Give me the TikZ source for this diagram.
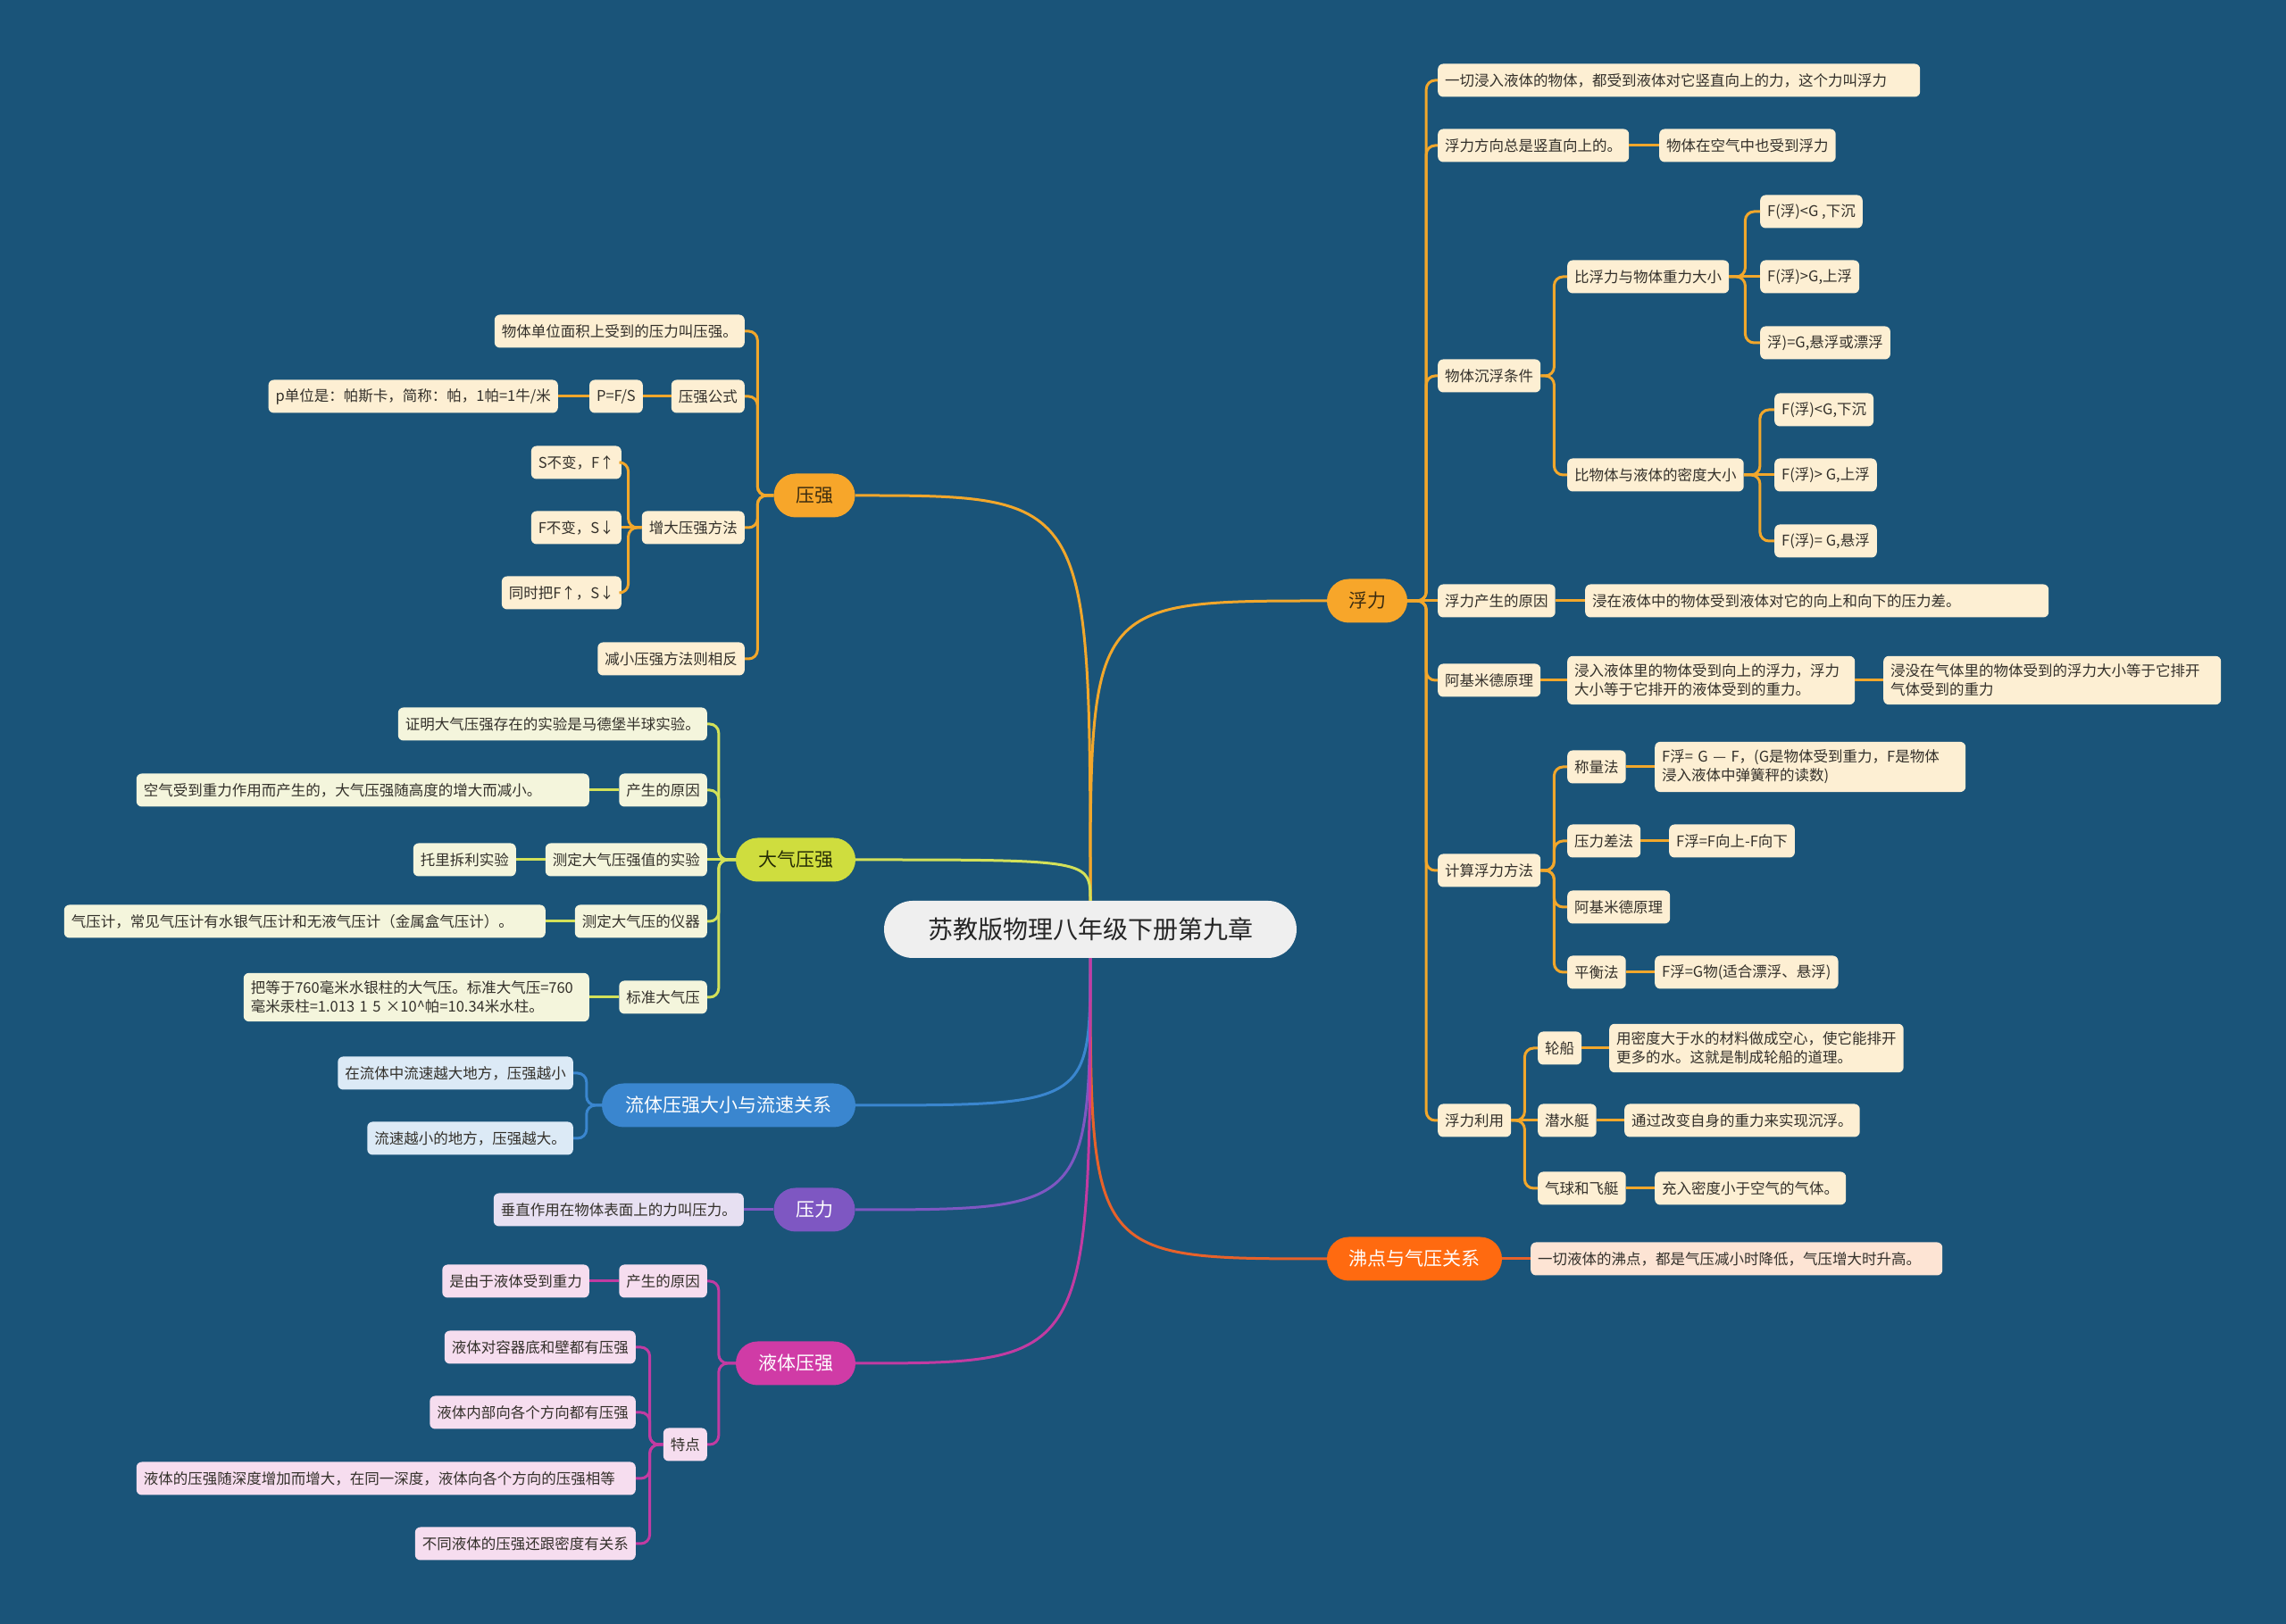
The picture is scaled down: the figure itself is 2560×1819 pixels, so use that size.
\documentclass[tikz,border=0pt]{standalone}
\usepackage{fontspec}
\setmainfont{Noto Sans CJK SC}
\usepackage{tikz}
\definecolor{bgblue}{HTML}{1A5479}
\definecolor{centerbg}{HTML}{EFEFEF}
\definecolor{leaftext}{HTML}{33302A}
\definecolor{fuline}{HTML}{F2A72B}
\definecolor{fumain}{HTML}{F7A62A}
\definecolor{fuleaf}{HTML}{FDEFD3}
\definecolor{fudark}{HTML}{3B2C10}
\definecolor{dqmain}{HTML}{CFDD3E}
\definecolor{dqline}{HTML}{D3E159}
\definecolor{dqleaf}{HTML}{F4F5DC}
\definecolor{dqdark}{HTML}{252C05}
\definecolor{ltmain}{HTML}{3A86CF}
\definecolor{ltleaf}{HTML}{DCEAF6}
\definecolor{ylmain}{HTML}{7E57C2}
\definecolor{ylleaf}{HTML}{E7E0F2}
\definecolor{ytmain}{HTML}{D03BA6}
\definecolor{ytline}{HTML}{C23BA2}
\definecolor{ytleaf}{HTML}{F6DDEF}
\definecolor{fdmain}{HTML}{FF6A10}
\definecolor{fdline}{HTML}{E8622A}
\definecolor{fdleaf}{HTML}{FDE4D4}

\begin{document}
\begin{tikzpicture}[
  x=1pt,y=1pt,
  every node/.style={font=\fontsize{16.5}{21}\selectfont},
  leaf/.style={fill=#1,rounded corners=6pt,inner xsep=8pt,inner ysep=9pt,minimum height=37pt,align=left,text=leaftext},
  topic/.style={fill=#1,rounded corners=24.5pt,minimum height=49pt,inner sep=0pt,font=\fontsize{21}{25}\selectfont},
  link/.style={draw=#1,line width=3pt,rounded corners=10pt},
  rfork/.style={to path={-- ++(#1,0) |- (\tikztotarget)}},
  lfork/.style={to path={-- ++(-#1,0) |- (\tikztotarget)}}
]
  \fill[bgblue] (0,0) rectangle (2560,1819);

  % root
  \node[fill=centerbg,rounded corners=32pt,minimum width=462pt,minimum height=64pt,inner sep=0pt,font=\fontsize{28}{32}\selectfont,text=black!85] (root) at (1221,778) {苏教版物理八年级下册第九章};

  % topics
  \node[topic=fumain,minimum width=90pt,text=fudark] (fuli) at (1531,1146) {浮力};
  \node[topic=fdmain,minimum width=196pt,text=white] (feidian) at (1584,409) {沸点与气压关系};
  \node[topic=fumain,minimum width=91pt,text=fudark] (yaqiang) at (912,1264) {压强};
  \node[topic=dqmain,minimum width=134pt,text=dqdark] (daqi) at (891,856) {大气压强};
  \node[topic=ltmain,minimum width=284pt,text=white] (liuti) at (816,581) {流体压强大小与流速关系};
  \node[topic=ylmain,minimum width=91pt,text=white] (yali) at (912,464) {压力};
  \node[topic=ytmain,minimum width=134pt,text=white] (yeti) at (891,292) {液体压强};

  % fuli
  \node[leaf=fuleaf,anchor=west,text width=524pt] (fu1) at (1610,1729) {一切浸入液体的物体，都受到液体对它竖直向上的力，这个力叫浮力};
  \node[leaf=fuleaf,anchor=west] (fu2) at (1610,1656) {浮力方向总是竖直向上的。};
  \node[leaf=fuleaf,anchor=west] (fu2a) at (1858,1656) {物体在空气中也受到浮力};
  \node[leaf=fuleaf,anchor=west] (fu3) at (1610,1398) {物体沉浮条件};
  \node[leaf=fuleaf,anchor=west] (fu3a) at (1755,1509) {比浮力与物体重力大小};
  \node[leaf=fuleaf,anchor=west] (fu3a1) at (1971,1582) {F(浮)<G ,下沉};
  \node[leaf=fuleaf,anchor=west] (fu3a2) at (1971,1509) {F(浮)>G,上浮};
  \node[leaf=fuleaf,anchor=west] (fu3a3) at (1971,1435) {浮)=G,悬浮或漂浮};
  \node[leaf=fuleaf,anchor=west] (fu3b) at (1755,1287) {比物体与液体的密度大小};
  \node[leaf=fuleaf,anchor=west] (fu3b1) at (1987,1360) {F(浮)<G,下沉};
  \node[leaf=fuleaf,anchor=west] (fu3b2) at (1987,1287) {F(浮)> G,上浮};
  \node[leaf=fuleaf,anchor=west] (fu3b3) at (1987,1213) {F(浮)= G,悬浮};
  \node[leaf=fuleaf,anchor=west] (fu4) at (1610,1146) {浮力产生的原因};
  \node[leaf=fuleaf,anchor=west,text width=503pt] (fu4a) at (1775,1146) {浸在液体中的物体受到液体对它的向上和向下的压力差。};
  \node[leaf=fuleaf,anchor=west] (fu5) at (1610,1057) {阿基米德原理};
  \node[leaf=fuleaf,anchor=west,text width=306pt] (fu5a) at (1755,1057) {浸入液体里的物体受到向上的浮力，浮力\\大小等于它排开的液体受到的重力。};
  \node[leaf=fuleaf,anchor=west,text width=362pt] (fu5b) at (2109,1057) {浸没在气体里的物体受到的浮力大小等于它排开\\气体受到的重力};
  \node[leaf=fuleaf,anchor=west] (fu6) at (1610,844) {计算浮力方法};
  \node[leaf=fuleaf,anchor=west] (fu6a) at (1755,960) {称量法};
  \node[leaf=fuleaf,anchor=west,text width=332pt] (fu6a1) at (1853,960) {F浮= G — F，(G是物体受到重力，F是物体\\浸入液体中弹簧秤的读数)};
  \node[leaf=fuleaf,anchor=west] (fu6b) at (1755,877) {压力差法};
  \node[leaf=fuleaf,anchor=west] (fu6b1) at (1869,877) {F浮=F向上-F向下};
  \node[leaf=fuleaf,anchor=west] (fu6c) at (1755,803) {阿基米德原理};
  \node[leaf=fuleaf,anchor=west] (fu6d) at (1755,730) {平衡法};
  \node[leaf=fuleaf,anchor=west] (fu6d1) at (1853,730) {F浮=G物(适合漂浮、悬浮)};
  \node[leaf=fuleaf,anchor=west] (fu7) at (1610,564) {浮力利用};
  \node[leaf=fuleaf,anchor=west] (fu7a) at (1722,645) {轮船};
  \node[leaf=fuleaf,anchor=west] (fu7a1) at (1802,645) {用密度大于水的材料做成空心，使它能排开\\更多的水。这就是制成轮船的道理。};
  \node[leaf=fuleaf,anchor=west] (fu7b) at (1722,564) {潜水艇};
  \node[leaf=fuleaf,anchor=west] (fu7b1) at (1819,564) {通过改变自身的重力来实现沉浮。};
  \node[leaf=fuleaf,anchor=west] (fu7c) at (1722,488) {气球和飞艇};
  \node[leaf=fuleaf,anchor=west] (fu7c1) at (1853,488) {充入密度小于空气的气体。};

  % feidian
  \node[leaf=fdleaf,anchor=west,text width=445pt] (fd1) at (1714,409) {一切液体的沸点，都是气压减小时降低，气压增大时升高。};

  % yaqiang
  \node[leaf=fuleaf,anchor=east] (ya1) at (834,1448) {物体单位面积上受到的压力叫压强。};
  \node[leaf=fuleaf,anchor=east] (ya2) at (834,1375) {压强公式};
  \node[leaf=fuleaf,anchor=east] (ya2a) at (720,1375) {P=F/S};
  \node[leaf=fuleaf,anchor=east] (ya2b) at (625,1375) {p单位是：帕斯卡，简称：帕，1帕=1牛/米};
  \node[leaf=fuleaf,anchor=east] (ya3) at (834,1228) {增大压强方法};
  \node[leaf=fuleaf,anchor=east] (ya3a) at (696,1301) {S不变，F↑};
  \node[leaf=fuleaf,anchor=east] (ya3b) at (696,1228) {F不变，S↓};
  \node[leaf=fuleaf,anchor=east] (ya3c) at (696,1155) {同时把F↑，S↓};
  \node[leaf=fuleaf,anchor=east] (ya4) at (834,1081) {减小压强方法则相反};

  % daqi
  \node[leaf=dqleaf,anchor=east] (dq1) at (792,1008) {证明大气压强存在的实验是马德堡半球实验。};
  \node[leaf=dqleaf,anchor=east] (dq2) at (792,934) {产生的原因};
  \node[leaf=dqleaf,anchor=east,text width=491pt] (dq2a) at (660,934) {空气受到重力作用而产生的，大气压强随高度的增大而减小。};
  \node[leaf=dqleaf,anchor=east] (dq3) at (792,856) {测定大气压强值的实验};
  \node[leaf=dqleaf,anchor=east] (dq3a) at (578,856) {托里拆利实验};
  \node[leaf=dqleaf,anchor=east] (dq4) at (792,787) {测定大气压的仪器};
  \node[leaf=dqleaf,anchor=east,text width=523pt] (dq4a) at (611,787) {气压计，常见气压计有水银气压计和无液气压计（金属盒气压计）。};
  \node[leaf=dqleaf,anchor=east] (dq5) at (792,702) {标准大气压};
  \node[leaf=dqleaf,anchor=east,text width=371pt] (dq5a) at (660,702) {把等于760毫米水银柱的大气压。标准大气压=760\\毫米汞柱=1.013 1 5 ×10\textasciicircum 帕=10.34米水柱。};

  % liuti
  \node[leaf=ltleaf,anchor=east] (lt1) at (642,617) {在流体中流速越大地方，压强越小};
  \node[leaf=ltleaf,anchor=east] (lt2) at (642,544) {流速越小的地方，压强越大。};

  % yali
  \node[leaf=ylleaf,anchor=east] (yl1) at (833,464) {垂直作用在物体表面上的力叫压力。};

  % yeti
  \node[leaf=ytleaf,anchor=east] (yt1) at (792,384) {产生的原因};
  \node[leaf=ytleaf,anchor=east] (yt1a) at (660,384) {是由于液体受到重力};
  \node[leaf=ytleaf,anchor=east] (yt2) at (792,201) {特点};
  \node[leaf=ytleaf,anchor=east] (yt2a) at (712,310) {液体对容器底和壁都有压强};
  \node[leaf=ytleaf,anchor=east] (yt2b) at (712,237) {液体内部向各个方向都有压强};
  \node[leaf=ytleaf,anchor=east,text width=543pt] (yt2c) at (712,163) {液体的压强随深度增加而增大，在同一深度，液体向各个方向的压强相等};
  \node[leaf=ytleaf,anchor=east] (yt2d) at (712,90) {不同液体的压强还跟密度有关系};

  % root to topics
  \draw[link=fuline] (root.north) .. controls (root.north |- fuli.west) and (root.north |- fuli.west) .. (fuli.west);
  \draw[link=fuline] (root.north) .. controls (root.north |- yaqiang.east) and (root.north |- yaqiang.east) .. (yaqiang.east);
  \draw[link=dqline] (root.north) .. controls (root.north |- daqi.east) and (root.north |- daqi.east) .. (daqi.east);
  \draw[link=fdline] (root.south) .. controls (root.south |- feidian.west) and (root.south |- feidian.west) .. (feidian.west);
  \draw[link=ltmain] (root.south) .. controls (root.south |- liuti.east) and (root.south |- liuti.east) .. (liuti.east);
  \draw[link=ylmain] (root.south) .. controls (root.south |- yali.east) and (root.south |- yali.east) .. (yali.east);
  \draw[link=ytline] (root.south) .. controls (root.south |- yeti.east) and (root.south |- yeti.east) .. (yeti.east);

  % fuli branches
  \draw[link=fuline] (fuli.east) to[rfork=21] (fu1.west);
  \draw[link=fuline] (fuli.east) to[rfork=21] (fu2.west);
  \draw[link=fuline] (fuli.east) to[rfork=21] (fu3.west);
  \draw[link=fuline] (fuli.east) -- (fu4.west);
  \draw[link=fuline] (fuli.east) to[rfork=21] (fu5.west);
  \draw[link=fuline] (fuli.east) to[rfork=21] (fu6.west);
  \draw[link=fuline] (fuli.east) to[rfork=21] (fu7.west);
  \draw[link=fuline] (fu2.east) -- (fu2a.west);
  \draw[link=fuline] (fu3.east) to[rfork=15] (fu3a.west);
  \draw[link=fuline] (fu3.east) to[rfork=15] (fu3b.west);
  \draw[link=fuline] (fu3a.east) to[rfork=18] (fu3a1.west);
  \draw[link=fuline] (fu3a.east) -- (fu3a2.west);
  \draw[link=fuline] (fu3a.east) to[rfork=18] (fu3a3.west);
  \draw[link=fuline] (fu3b.east) to[rfork=18] (fu3b1.west);
  \draw[link=fuline] (fu3b.east) -- (fu3b2.west);
  \draw[link=fuline] (fu3b.east) to[rfork=18] (fu3b3.west);
  \draw[link=fuline] (fu4.east) -- (fu4a.west);
  \draw[link=fuline] (fu5.east) -- (fu5a.west);
  \draw[link=fuline] (fu5a.east) -- (fu5b.west);
  \draw[link=fuline] (fu6.east) to[rfork=15] (fu6a.west);
  \draw[link=fuline] (fu6.east) to[rfork=15] (fu6b.west);
  \draw[link=fuline] (fu6.east) to[rfork=15] (fu6c.west);
  \draw[link=fuline] (fu6.east) to[rfork=15] (fu6d.west);
  \draw[link=fuline] (fu6a.east) -- (fu6a1.west);
  \draw[link=fuline] (fu6b.east) -- (fu6b1.west);
  \draw[link=fuline] (fu6d.east) -- (fu6d1.west);
  \draw[link=fuline] (fu7.east) to[rfork=15] (fu7a.west);
  \draw[link=fuline] (fu7.east) -- (fu7b.west);
  \draw[link=fuline] (fu7.east) to[rfork=15] (fu7c.west);
  \draw[link=fuline] (fu7a.east) -- (fu7a1.west);
  \draw[link=fuline] (fu7b.east) -- (fu7b1.west);
  \draw[link=fuline] (fu7c.east) -- (fu7c1.west);

  % feidian branch
  \draw[link=fdline] (feidian.east) -- (fd1.west);

  % yaqiang branches
  \draw[link=fuline] (yaqiang.west) to[lfork=18] (ya1.east);
  \draw[link=fuline] (yaqiang.west) to[lfork=18] (ya2.east);
  \draw[link=fuline] (yaqiang.west) to[lfork=18] (ya3.east);
  \draw[link=fuline] (yaqiang.west) to[lfork=18] (ya4.east);
  \draw[link=fuline] (ya2.west) -- (ya2a.east);
  \draw[link=fuline] (ya2a.west) -- (ya2b.east);
  \draw[link=fuline] (ya3.west) to[lfork=15] (ya3a.east);
  \draw[link=fuline] (ya3.west) -- (ya3b.east);
  \draw[link=fuline] (ya3.west) to[lfork=15] (ya3c.east);

  % daqi branches
  \draw[link=dqline] (daqi.west) to[lfork=19] (dq1.east);
  \draw[link=dqline] (daqi.west) to[lfork=19] (dq2.east);
  \draw[link=dqline] (daqi.west) -- (dq3.east);
  \draw[link=dqline] (daqi.west) to[lfork=19] (dq4.east);
  \draw[link=dqline] (daqi.west) to[lfork=19] (dq5.east);
  \draw[link=dqline] (dq2.west) -- (dq2a.east);
  \draw[link=dqline] (dq3.west) -- (dq3a.east);
  \draw[link=dqline] (dq4.west) -- (dq4a.east);
  \draw[link=dqline] (dq5.west) -- (dq5a.east);

  % liuti branches
  \draw[link=ltmain] (liuti.west) to[lfork=17] (lt1.east);
  \draw[link=ltmain] (liuti.west) to[lfork=17] (lt2.east);

  % yali branch
  \draw[link=ylmain] (yali.west) -- (yl1.east);

  % yeti branches
  \draw[link=ytline] (yeti.west) to[lfork=19] (yt1.east);
  \draw[link=ytline] (yeti.west) to[lfork=19] (yt2.east);
  \draw[link=ytline] (yt1.west) -- (yt1a.east);
  \draw[link=ytline] (yt2.west) to[lfork=15] (yt2a.east);
  \draw[link=ytline] (yt2.west) to[lfork=15] (yt2b.east);
  \draw[link=ytline] (yt2.west) to[lfork=15] (yt2c.east);
  \draw[link=ytline] (yt2.west) to[lfork=15] (yt2d.east);
\end{tikzpicture}
\end{document}
